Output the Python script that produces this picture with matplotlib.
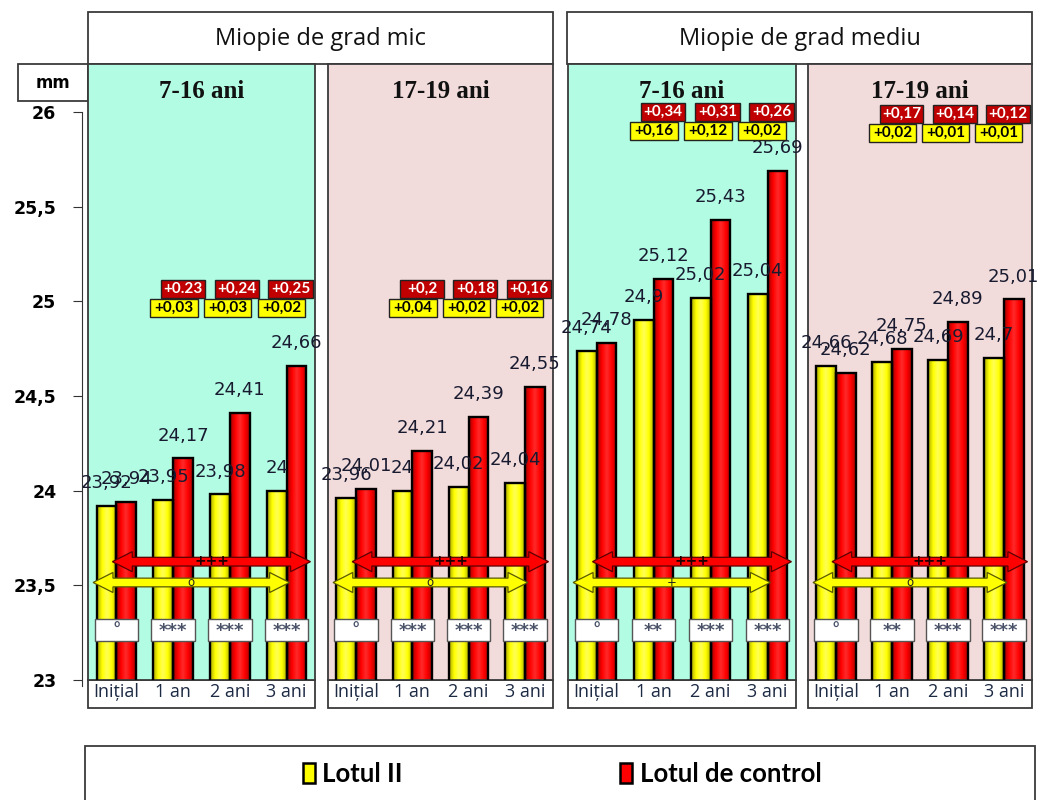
import numpy as np
import matplotlib.pyplot as plt
from matplotlib.patches import Rectangle, Polygon
from matplotlib.colors import LinearSegmentedColormap

plt.rcParams['font.family'] = ['DejaVu Sans']

# date: lungimea axului anteroposterior (mm)
categorii = ['Inițial', '1 an', '2 ani', '3 ani']
grupe = ['Miopie de grad mic', 'Miopie de grad mediu']
varste = ['7-16 ani', '17-19 ani', '7-16 ani', '17-19 ani']

lotul_ii = [
    [23.92, 23.95, 23.98, 24.00],
    [23.96, 24.00, 24.02, 24.04],
    [24.74, 24.90, 25.02, 25.04],
    [24.66, 24.68, 24.69, 24.70],
]
lotul_control = [
    [23.94, 24.17, 24.41, 24.66],
    [24.01, 24.21, 24.39, 24.55],
    [24.78, 25.12, 25.43, 25.69],
    [24.62, 24.75, 24.89, 25.01],
]

# sporuri anuale
spor_control = [
    ['+0.23', '+0,24', '+0,25'],
    ['+0,2', '+0,18', '+0,16'],
    ['+0,34', '+0,31', '+0,26'],
    ['+0,17', '+0,14', '+0,12'],
]
spor_lotul = [
    ['+0,03', '+0,03', '+0,02'],
    ['+0,04', '+0,02', '+0,02'],
    ['+0,16', '+0,12', '+0,02'],
    ['+0,02', '+0,01', '+0,01'],
]

# semnificatie intre loturi si pe durata studiului
semnif = [
    ['°', '***', '***', '***'],
    ['°', '***', '***', '***'],
    ['°', '**', '***', '***'],
    ['°', '**', '***', '***'],
]
semnif_control = ['+++', '+++', '+++', '+++']
semnif_lotul = ['o', 'o', '+', 'o']

fundal = ['#b3fce4', '#f2dcdb', '#b3fce4', '#f2dcdb']
galben, rosu = '#ffff00', '#ff0000'
text_val = '#181a30'

W, H = 1042, 800
fig = plt.figure(figsize=(W / 100, H / 100), dpi=100)


def fr(x0, y0, x1, y1):
    # dreptunghi in pixeli (y de sus) -> coordonate figura
    return [x0 / W, 1 - y1 / H, (x1 - x0) / W, (y1 - y0) / H]


def cutie(x0, y0, x1, y1, fc='white', ec='#3a3a3a', lw=1.3, z=-1):
    l, b, w, h = fr(x0, y0, x1, y1)
    fig.patches.append(Rectangle((l, b), w, h, transform=fig.transFigure,
                                 facecolor=fc, edgecolor=ec, lw=lw, zorder=z))


def sageata(ax, x0, x1, y, fc, ec):
    sh, hh, hl = 0.023, 0.053, 0.35
    pts = [(x0, y), (x0 + hl, y + hh), (x0 + hl, y + sh), (x1 - hl, y + sh),
           (x1 - hl, y + hh), (x1, y), (x1 - hl, y - hh), (x1 - hl, y - sh),
           (x0 + hl, y - sh), (x0 + hl, y - hh)]
    ax.add_patch(Polygon(pts, closed=True, facecolor=fc, edgecolor=ec,
                         lw=0.9, zorder=5))


def eticheta(v):
    return f'{v:g}'.replace('.', ',')


cm_galben = LinearSegmentedColormap.from_list(
    'g', ['#a8a800', '#ffff00', '#ffff55', '#ffff00', '#b4b400'])
cm_rosu = LinearSegmentedColormap.from_list(
    'r', ['#a00000', '#ff0000', '#ff2a2a', '#ff0000', '#b00000'])
grad = np.linspace(0, 1, 64).reshape(1, -1)

panouri = [(88, 315), (328, 553), (568, 796), (808, 1032)]
sus, jos = 64, 680
px_mm = (680 - 112) / 3
y_max = 23 + (jos - sus) / px_mm
badge_y = [25.065, 25.065, 26.0, 25.99]

# antetele celor doua grupe
for g, (x0, x1) in enumerate([(88, 553), (567, 1032)]):
    cutie(x0, 12, x1, sus)
    fig.text((x0 + x1) / 2 / W, 1 - 39 / H, grupe[g], family='Open Sans',
             fontsize=17, ha='center', va='center', color='#111111')

# cutia "mm"
cutie(18, 64, 88, 101)
fig.text(53 / W, 1 - 83 / H, 'mm', fontsize=12, fontweight='bold',
         ha='center', va='center')

x = np.arange(len(categorii))
w = 0.35
for i, (x0, x1) in enumerate(panouri):
    cutie(x0, jos, x1, 708)
    ax = fig.add_axes(fr(x0, sus, x1, jos))
    ax.set_facecolor(fundal[i])

    for serie, dx, cmap in [(lotul_ii[i], -w / 2, cm_galben),
                            (lotul_control[i], w / 2, cm_rosu)]:
        for k, v in enumerate(serie):
            ax.imshow(grad, cmap=cmap, aspect='auto', zorder=2,
                      extent=(k + dx - w / 2, k + dx + w / 2, 23, v))
        ax.bar(x + dx, serie, w, facecolor='none', edgecolor='black',
               lw=1.7, zorder=3)
        for k, v in enumerate(serie):
            ax.annotate(eticheta(v), (k + dx, v), xytext=(0, 16.5),
                        textcoords='offset points', ha='center', va='center',
                        fontsize=13, color=text_val, zorder=6)
    ax.set_xlim(-0.5, 3.5)
    ax.set_ylim(23, y_max)

    # sageti de comparatie
    sageata(ax, -0.07, 3.42, 23.625, rosu, '#5a0000')
    sageata(ax, -0.41, 3.05, 23.515, galben, '#5a5a00')
    ax.text(1.68, 23.627, semnif_control[i], fontsize=10, fontweight='bold',
            ha='center', va='center', color='#200000', zorder=6)
    ax.text(1.32, 23.517, semnif_lotul[i], fontsize=8.5, ha='center',
            va='center', color='#222222', zorder=6)

    # casete cu semnificatia
    for k, s in enumerate(semnif[i]):
        ax.add_patch(Rectangle((k - 0.385, 23.205), 0.77, 0.116,
                               facecolor='white', edgecolor='#555555',
                               lw=1, zorder=5))
        ax.text(k, 23.258, s, fontsize=13 if s != '°' else 12,
                fontweight='bold', ha='center', va='center',
                color='#4a5268', zorder=6)

    # sporuri
    for k in range(3):
        xr = 0.95 * (k + 1) + 0.22
        xg = 0.95 * (k + 1) + 0.06
        yr = badge_y[i]
        yg = yr - 0.1
        ax.add_patch(Rectangle((xr - 0.39, yr - 0.047), 0.78, 0.094,
                               facecolor='#c00000', edgecolor='#222222',
                               lw=1, zorder=6))
        ax.text(xr, yr, spor_control[i][k], family='Lato', fontweight='bold',
                fontsize=11, color='white', ha='center', va='center', zorder=7)
        ax.add_patch(Rectangle((xg - 0.42, yg - 0.047), 0.84, 0.094,
                               facecolor='#ffff00', edgecolor='#222222',
                               lw=1, zorder=7))
        ax.text(xg, yg, spor_lotul[i][k], family='Lato', fontweight='bold',
                fontsize=11, color='black', ha='center', va='center', zorder=8)

    ax.text(1.5, 23 + (jos - 91) / px_mm, varste[i], family='Liberation Serif',
            fontweight='bold', fontsize=18, ha='center', va='center',
            color='#111111', zorder=6)

    ax.set_yticks([])
    ax.set_xticks(x, categorii, family='Open Sans', fontsize=13,
                  color='#1d2a44')
    ax.tick_params(axis='x', length=0, pad=2)
    for sp in ax.spines.values():
        sp.set_color('#3a3a3a')
        sp.set_linewidth(1.3)

# axa y comuna
ay = fig.add_axes(fr(82, sus, 83, jos))
ay.set_facecolor('none')
ay.set_ylim(23, y_max)
ay.set_xticks([])
for nume in ['top', 'right', 'bottom']:
    ay.spines[nume].set_visible(False)
ay.spines['left'].set_bounds(22.97, 26)
ay.spines['left'].set_color('#333333')
ticks = [23, 23.5, 24, 24.5, 25, 25.5, 26]
ay.set_yticks(ticks, [eticheta(t) for t in ticks], fontsize=12.5,
              fontweight='bold')
ay.tick_params(axis='y', length=6.5, pad=12, color='#333333')

# legenda
cutie(85, 746, 1035, 830)
cutie(303, 763, 315, 783, fc=galben, ec='black', lw=1.8, z=2)
fig.text(322 / W, 1 - 774 / H, 'Lotul II', family='Lato', fontweight='bold',
         fontsize=18.5, va='center', ha='left')
cutie(620, 763, 632, 783, fc=rosu, ec='black', lw=1.8, z=2)
fig.text(640 / W, 1 - 774 / H, 'Lotul de control', family='Lato',
         fontweight='bold', fontsize=18.5, va='center', ha='left')

fig.savefig('out.png', dpi=100)
